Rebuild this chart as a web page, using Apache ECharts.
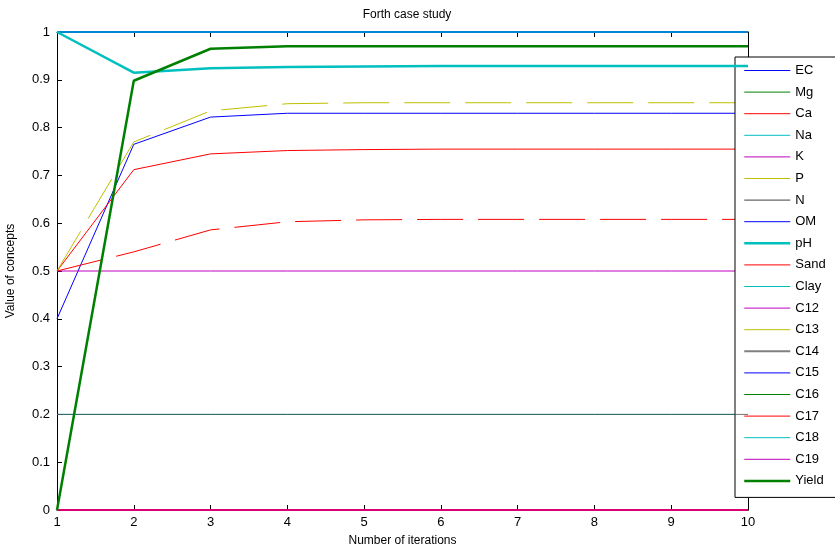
<!DOCTYPE html>
<html><head><meta charset="utf-8">
<script src="https://cdn.jsdelivr.net/npm/echarts@6/dist/echarts.min.js"></script>
<style>html,body{margin:0;padding:0;background:#fff}#c{width:835px;height:552px}</style>
</head><body><div id="c"></div>
<script>
const iterations = [1,2,3,4,5,6,7,8,9,10];
const seriesNames = ['EC','Mg','Ca','Na','K','P','N','OM','pH','Sand','Clay','C12','C13','C14','C15','C16','C17','C18','C19','Yield'];
const EC    = [0.4, 0.765, 0.822, 0.830, 0.830, 0.830, 0.830, 0.830, 0.830, 0.830];
const Mg    = [0,0,0,0,0,0,0,0,0,0];
const Ca    = [0.5, 0.712, 0.745, 0.752, 0.754, 0.755, 0.755, 0.755, 0.755, 0.755];
const Na    = [1,1,1,1,1,1,1,1,1,1];
const K     = [0.5,0.5,0.5,0.5,0.5,0.5,0.5,0.5,0.5,0.5];
const P     = [0.5, 0.770, 0.835, 0.850, 0.852, 0.852, 0.852, 0.852, 0.852, 0.852];
const N     = [0.2,0.2,0.2,0.2,0.2,0.2,0.2,0.2,0.2,0.2];
const OM    = [1,1,1,1,1,1,1,1,1,1];
const pH    = [1, 0.915, 0.924, 0.927, 0.928, 0.929, 0.929, 0.929, 0.929, 0.929];
const Sand  = [0.5, 0.540, 0.586, 0.603, 0.607, 0.608, 0.608, 0.608, 0.608, 0.608];
const Clay  = [1,1,1,1,1,1,1,1,1,1];
const C12   = [0,0,0,0,0,0,0,0,0,0];
const C13   = [0,0,0,0,0,0,0,0,0,0];
const C14   = [0,0,0,0,0,0,0,0,0,0];
const C15   = [0,0,0,0,0,0,0,0,0,0];
const C16   = [0,0,0,0,0,0,0,0,0,0];
const C17   = [0,0,0,0,0,0,0,0,0,0];
const C18   = [0.2,0.2,0.2,0.2,0.2,0.2,0.2,0.2,0.2,0.2];
const C19   = [0,0,0,0,0,0,0,0,0,0];
const Yield = [0, 0.898, 0.965, 0.970, 0.970, 0.970, 0.970, 0.970, 0.970, 0.970];
const seriesValues = [EC,Mg,Ca,Na,K,P,N,OM,pH,Sand,Clay,C12,C13,C14,C15,C16,C17,C18,C19,Yield];
const yTicks = [0,0.1,0.2,0.3,0.4,0.5,0.6,0.7,0.8,0.9,1];

const colors = {EC:'#0000ff',Mg:'#008000',Ca:'#ff0000',Na:'#00bfbf',K:'#bf00bf',P:'#bfbf00',N:'#404040',
  OM:'#0000ff',pH:'#00bfbf',Sand:'#ff0000',Clay:'#00bfbf',C12:'#bf00bf',C13:'#bfbf00',C14:'#808080',
  C15:'#0000ff',C16:'#008000',C17:'#ff0000',C18:'#00bfbf',C19:'#bf00bf',Yield:'#008000'};
const widths = {pH:2.5, Yield:2.5, C14:2, Na:2, Clay:2, OM:2, C17:2, C19:2};
const opac = {OM:0.3, N:0.75, C19:0.6};
const zs = {OM:5, N:5, C19:5, Yield:6, pH:6};
const legendWidths = {pH:2.5, Yield:2.5, C14:2};
const dashed = {P:true, Sand:true};

const FONT = 'Liberation Sans, Arial, sans-serif';
const series = seriesNames.map((n,i)=>({
  name:n, type:'line', symbol:'none', clip:false, animation:false, z: zs[n]||2,
  data: iterations.map((x,j)=>[x, seriesValues[i][j]]),
  color: colors[n],
  lineStyle:{color:colors[n], width: widths[n]||1, opacity: opac[n]||1, type: dashed[n]?[46,15]:'solid', cap:'butt'},
  emphasis:{disabled:true}
}));

const axisCommon = {
  axisLine:{show:true, onZero:false, lineStyle:{color:'#000', width:1}},
  axisTick:{show:true, inside:true, length:5, lineStyle:{color:'#000'}},
  splitLine:{show:false}
};
const chart = echarts.init(document.getElementById('c'), null, {renderer:'canvas'});
chart.setOption({
  backgroundColor:'#fff',
  animation:false,
  title:{text:'Forth case study', left:402, top:4, textAlign:'center',
    textStyle:{fontFamily:FONT, fontSize:12, fontWeight:'normal', color:'#000'}},
  grid:{left:57, right:87, top:32, bottom:42, containLabel:false, outerBoundsMode:'none'},
  legend:{orient:'vertical', left:735, top:57, itemWidth:46, itemHeight:10, itemGap:8.6,
    backgroundColor:'#fff', borderColor:'#000', borderWidth:1, padding:[7,40,10,8],
    itemStyle:{opacity:0},
    textStyle:{fontFamily:FONT, fontSize:13, color:'#000'},
    data: seriesNames.map(n=>({name:n, itemStyle:{opacity:0}, lineStyle:{width: legendWidths[n]||1, opacity:1, type:'solid'}})),
    selectedMode:false},
  xAxis:[
    Object.assign({type:'value', min:1, max:10, interval:1, position:'bottom',
      name:'Number of iterations', nameLocation:'middle', nameGap:25,
      nameTextStyle:{fontFamily:FONT, fontSize:12, color:'#000'},
      axisLabel:{fontFamily:FONT, fontSize:13, color:'#000', margin:6}}, axisCommon),
    Object.assign({type:'value', min:1, max:10, interval:1, position:'top', axisLabel:{show:false}}, axisCommon)
  ],
  yAxis:[
    Object.assign({type:'value', min:0, max:1, interval:0.1, position:'left',
      name:'Value of concepts', nameLocation:'middle', nameGap:40, nameRotate:90,
      nameTextStyle:{fontFamily:FONT, fontSize:12, color:'#000'},
      axisLabel:{fontFamily:FONT, fontSize:13, color:'#000', margin:7,
        formatter:v=>{const t=yTicks.find(t=>Math.abs(t-v)<1e-9); return t===undefined?'':String(t);}}}, axisCommon),
    Object.assign({type:'value', min:0, max:1, interval:0.1, position:'right', axisLabel:{show:false}}, axisCommon)
  ],
  series: series
});
</script></body></html>
